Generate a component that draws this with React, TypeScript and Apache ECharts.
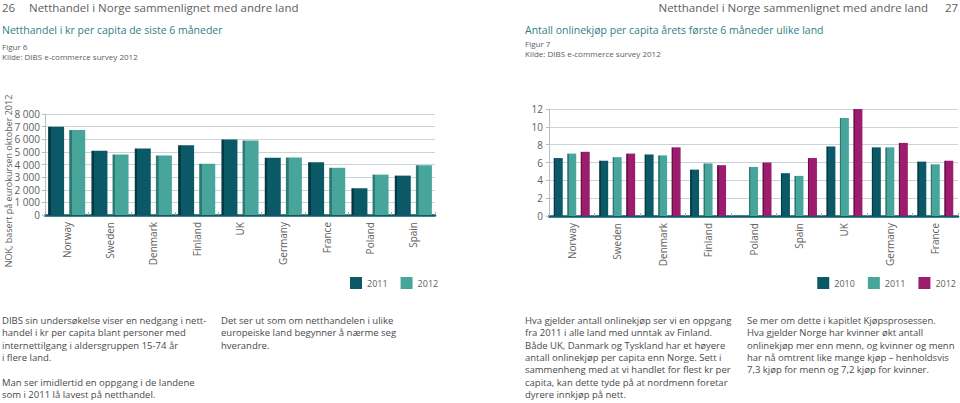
import React, { useEffect, useRef } from "react";
import * as echarts from "echarts";

const leftCategories = ["Norway", "Sweden", "Denmark", "Finland", "UK", "Germany", "France", "Poland", "Spain"];
const left2011 = [7000, 5080, 5270, 5530, 5990, 4530, 4180, 2120, 3120];
const left2012 = [6730, 4790, 4710, 4050, 5910, 4560, 3740, 3200, 3940];
const leftTicks = { min: 0, max: 8000, interval: 1000 };

const rightCategories = ["Norway", "Sweden", "Denmark", "Finland", "Poland", "Spain", "UK", "Germany", "France"];
const right2010: (number | null)[] = [6.5, 6.2, 6.9, 5.2, null, 4.8, 7.8, 7.7, 6.1];
const right2011 = [7.0, 6.6, 6.8, 5.9, 5.5, 4.5, 11.0, 7.7, 5.8];
const right2012 = [7.2, 7.0, 7.7, 5.7, 6.0, 6.5, 12.0, 8.2, 6.2];
const rightTicks = { min: 0, max: 12, interval: 2 };

const DARK = "#0b5866";
const DARK_EDGE = "#053a44";
const LIGHT = "#48a59c";
const LIGHT_EDGE = "#2c7a72";
const MAG = "#9c1d6d";
const MAG_EDGE = "#6a0f49";
const GREY_TEXT = "#5e5e5e";
const TEAL_TEXT = "#2f7f86";
const FONT = "'Open Sans', 'DejaVu Sans', sans-serif";

function grad(edge: string, main: string) {
  return new echarts.graphic.LinearGradient(0, 0, 1, 0, [
    { offset: 0, color: edge },
    { offset: 0.16, color: edge },
    { offset: 0.17, color: main },
    { offset: 1, color: main },
  ]);
}

const leftText1 = [
  "DIBS sin undersøkelse viser en nedgang i nett-",
  "handel i kr per capita blant personer med",
  "internettilgang i aldersgruppen 15-74 år",
  "i flere land.",
  "",
  "Man ser imidlertid en oppgang i de landene",
  "som i 2011 lå lavest på netthandel.",
];
const leftText2 = [
  "Det ser ut som om netthandelen i ulike",
  "europeiske land begynner å nærme seg",
  "hverandre.",
];
const rightText1 = [
  "Hva gjelder antall onlinekjøp ser vi en oppgang",
  "fra 2011 i alle land med unntak av Finland.",
  "Både UK, Danmark og Tyskland har et høyere",
  "antall onlinekjøp per capita enn Norge. Sett i",
  "sammenheng med at vi handlet for flest kr per",
  "capita, kan dette tyde på at nordmenn foretar",
  "dyrere innkjøp på nett.",
];
const rightText2 = [
  "Se mer om dette i kapitlet Kjøpsprosessen.",
  "Hva gjelder Norge har kvinner økt antall",
  "onlinekjøp mer enn menn, og kvinner og menn",
  "har nå omtrent like mange kjøp – henholdsvis",
  "7,3 kjøp for menn og 7,2 kjøp for kvinner.",
];

function txt(x: number, y: number, text: string, size: number, color: string, align = "left") {
  return {
    type: "text",
    x,
    y,
    style: {
      text,
      fontSize: size,
      fontFamily: FONT,
      fill: color,
      textAlign: align,
      textVerticalAlign: "middle",
    },
  };
}

function para(x: number, y: number, lines: string[]) {
  return {
    type: "text",
    x,
    y,
    style: {
      text: lines.join("\n"),
      fontSize: 9.5,
      fontFamily: FONT,
      fill: "#4a4a4a",
      textAlign: "left",
      textVerticalAlign: "top",
      lineHeight: 12.4,
    },
  };
}

export default function App() {
  const ref = useRef<HTMLDivElement>(null);
  useEffect(() => {
    if (!ref.current) return;
    const chart = echarts.init(ref.current, undefined, { renderer: "svg" });
    const axisLabel = { color: GREY_TEXT, fontSize: 10, fontFamily: FONT };
    const splitLine = { show: true, lineStyle: { color: "#c9d4d8", width: 1 } };
    const xAxisCommon = {
      type: "category",
      axisLine: { show: true, lineStyle: { color: "#0e5a68", width: 2.5 } },
      axisTick: { show: true, inside: true, length: 3, lineStyle: { color: "#9aaeb3" } },
      axisLabel: { ...axisLabel, rotate: 90, margin: 7, interval: 0 },
    };
    const yAxisCommon = {
      type: "value",
      axisLine: { show: true, lineStyle: { color: "#b5c0c4", width: 1 } },
      axisTick: { show: true, length: 3, lineStyle: { color: "#b5c0c4" } },
      splitLine,
    };
    const legendCommon = {
      top: 277,
      padding: 0,
      orient: "horizontal",
      itemWidth: 12,
      itemHeight: 12,
      icon: "rect",
      formatter: (n: string) => n.slice(1),
      textStyle: { color: GREY_TEXT, fontSize: 9, fontFamily: FONT, padding: [0, 0, 0, 0] },
    };
    const option: any = {
      animation: false,
      backgroundColor: "#ffffff",
      textStyle: { fontFamily: FONT },
      grid: [
        { left: 45, right: 525, top: 114, bottom: 188 },
        { left: 549, right: 2, top: 109, bottom: 187 },
      ],
      xAxis: [
        { ...xAxisCommon, gridIndex: 0, data: leftCategories },
        { ...xAxisCommon, gridIndex: 1, data: rightCategories },
      ],
      yAxis: [
        {
          ...yAxisCommon,
          gridIndex: 0,
          ...leftTicks,
          axisLabel: {
            ...axisLabel,
            margin: 5,
            formatter: (v: number) => (v >= 1000 ? `${Math.floor(v / 1000)} ${String(v % 1000).padStart(3, "0")}` : String(v)),
          },
        },
        { ...yAxisCommon, gridIndex: 1, ...rightTicks, axisLabel: { ...axisLabel, margin: 6 } },
      ],
      legend: [
        {
          ...legendCommon,
          left: 350,
          itemGap: 13,
          data: [
            { name: "L2011", itemStyle: { color: DARK } },
            { name: "L2012", itemStyle: { color: LIGHT } },
          ],
        },
        {
          ...legendCommon,
          right: 4,
          itemGap: 13,
          data: [
            { name: "R2010", itemStyle: { color: DARK } },
            { name: "R2011", itemStyle: { color: LIGHT } },
            { name: "R2012", itemStyle: { color: MAG } },
          ],
        },
      ],
      series: [
        { name: "L2011", type: "bar", xAxisIndex: 0, yAxisIndex: 0, data: left2011, barWidth: 16, barGap: "32%", itemStyle: { color: grad(DARK_EDGE, DARK) } },
        { name: "L2012", type: "bar", xAxisIndex: 0, yAxisIndex: 0, data: left2012, barWidth: 16, barGap: "32%", itemStyle: { color: grad(LIGHT_EDGE, LIGHT) } },
        { name: "R2010", type: "bar", xAxisIndex: 1, yAxisIndex: 1, data: right2010, barWidth: 9, barGap: "50%", itemStyle: { color: grad(DARK_EDGE, DARK) } },
        { name: "R2011", type: "bar", xAxisIndex: 1, yAxisIndex: 1, data: right2011, barWidth: 9, barGap: "50%", itemStyle: { color: grad(LIGHT_EDGE, LIGHT) } },
        { name: "R2012", type: "bar", xAxisIndex: 1, yAxisIndex: 1, data: right2012, barWidth: 9, barGap: "50%", itemStyle: { color: grad(MAG_EDGE, MAG) } },
      ],
      graphic: [
        txt(2, 7, "26", 11.5, GREY_TEXT),
        txt(29, 7, "Netthandel i Norge sammenlignet med andre land", 11.5, GREY_TEXT),
        txt(928, 7, "Netthandel i Norge sammenlignet med andre land", 11.5, GREY_TEXT, "right"),
        txt(945, 7, "27", 11.5, GREY_TEXT),
        txt(2, 30, "Netthandel i kr per capita de siste 6 måneder", 10.5, TEAL_TEXT),
        txt(2, 46, "Figur 6", 8, GREY_TEXT),
        txt(2, 56, "Kilde: DIBS e-commerce survey 2012", 8, GREY_TEXT),
        txt(525, 30, "Antall onlinekjøp per capita årets første 6 måneder ulike land", 10.5, TEAL_TEXT),
        txt(525, 43.5, "Figur 7", 8, GREY_TEXT),
        txt(525, 53.5, "Kilde: DIBS e-commerce survey 2012", 8, GREY_TEXT),
        {
          type: "text",
          x: 8,
          y: 181,
          rotation: Math.PI / 2,
          style: {
            text: "NOK, basert på eurokursen oktober 2012",
            fontSize: 9,
            fontFamily: FONT,
            fill: GREY_TEXT,
            textAlign: "center",
            textVerticalAlign: "middle",
          },
        },
        para(2, 314, leftText1),
        para(221, 314, leftText2),
        para(525, 314, rightText1),
        para(747, 314, rightText2),
      ],
    };
    chart.setOption(option);
    return () => chart.dispose();
  }, []);
  return <div ref={ref} style={{ position: "fixed", left: 0, top: 0, width: 960, height: 403 }} />;
}
